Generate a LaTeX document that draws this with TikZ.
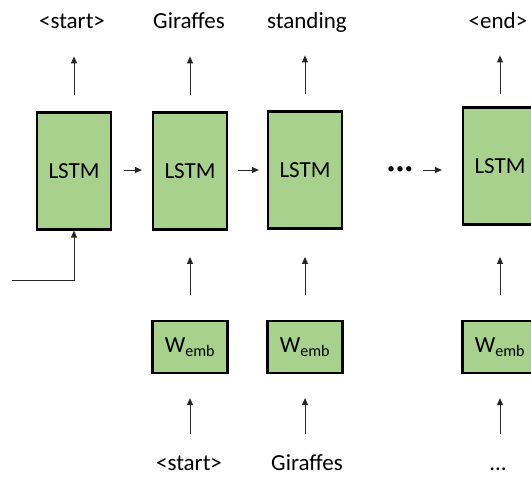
\documentclass[tikz,border=0pt]{standalone}
\usepackage{fontspec}
\setmainfont{Carlito}
\usetikzlibrary{arrows.meta,calc}
\definecolor{cellgreen}{HTML}{A9D18E}
\begin{document}
\begin{tikzpicture}[x=1pt,y=-1pt,
  cell/.style={draw=black,line width=2.2pt,fill=cellgreen,inner sep=0pt,font=\fontsize{23}{26}\selectfont},
  lstm/.style={cell,minimum width=74pt,minimum height=117pt},
  emb/.style={cell,minimum width=75pt,minimum height=52pt},
  word/.style={font=\fontsize{23}{26}\selectfont,inner sep=0pt,anchor=base},
  arr/.style={draw=black!85,line width=0.9pt,-{Triangle[length=7pt,width=6pt]}}]
\useasboundingbox (0,0) rectangle (531,477);

% LSTM cells
\node[lstm] (l1) at (74,171) {LSTM};
\node[lstm] (l2) at (190,171) {LSTM};
\node[lstm] (l3) at (305,170) {LSTM};
\node[lstm] (l4) at (500,166) {LSTM};

% embedding layers
\node[emb] (w2) at (190,347) {W\textsubscript{emb}};
\node[emb] (w3) at (305,347) {W\textsubscript{emb}};
\node[emb] (w4) at (500,347) {W\textsubscript{emb}};

% output words
\node[word] (o1) at (72,28) {<start>};
\node[word] (o2) at (189,28) {Giraffes};
\node[word] (o3) at (307,28) {standing};
\node[word] (o4) at (498,28) {<end>};

% input words
\node[word] (i2) at (189,470) {<start>};
\node[word] (i3) at (307,470) {Giraffes};
\node[word] (i4) at (498,470) {...};

% output arrows
\foreach \n in {1,2,3}{
  \draw[arr] ($(l\n.north)+(0,-16)$) -- ($(l\n.north)+(0,-55)$);
}
\draw[arr] ($(l4.north)+(0,-12)$) -- ($(l4.north)+(0,-51)$);

% embedding to LSTM arrows
\foreach \n in {2,3,4}{
  \draw[arr] ($(w\n.north)+(0,-25)$) -- ($(w\n.north)+(0,-63)$);
  \draw[arr] ($(w\n.south)+(0,60)$) -- ($(w\n.south)+(0,24)$);
}

% recurrent connections
\draw[arr] ($(l1.east)+(12,-1)$) -- ($(l2.west)+(-10,-1)$);
\draw[arr] ($(l2.east)+(10,-1)$) -- ($(l3.west)+(-8,0)$);
\node[font=\fontsize{15}{18}\selectfont,inner sep=0pt] (dots) at (400,170) {•\kern1.5pt•\kern1.5pt•};
\draw[arr] ($(dots.east)+(10,0)$) -- ($(l4.west)+(-20,4)$);

% initial input
\coordinate (start) at (12,280);
\draw[arr] (start) -| (l1.south);
\end{tikzpicture}
\end{document}
